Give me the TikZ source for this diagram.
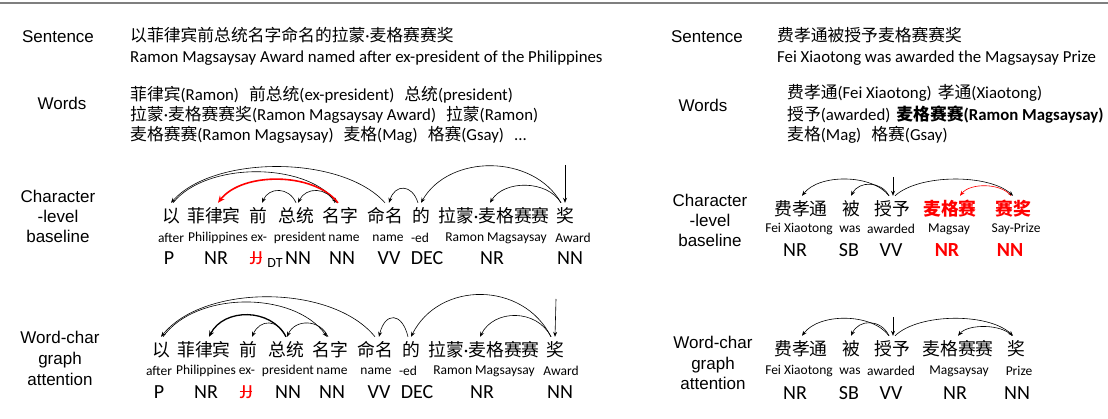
\documentclass[tikz,border=0pt]{standalone}
\usepackage{fontspec}
\usepackage{xcolor}
\usetikzlibrary{arrows.meta,calc}
\setmainfont{Liberation Sans}
\newfontfamily\cjk{Noto Sans CJK SC}
\newfontfamily\cali{Carlito}
\newcommand{\zh}[1]{{\cjk #1}}
\newcommand{\gap}{\hspace{10pt}}
\newcommand{\dotc}{{\cali ·}}
\newcommand{\strk}[1]{\setbox0\hbox{#1}\rlap{\rule[0.3em]{\wd0}{0.9pt}}\box0}
\definecolor{rulegray}{HTML}{7F7F7F}

\begin{document}
\begin{tikzpicture}[
        x=1pt, y=-1pt,
        lbl/.style={font=\fontsize{17}{20}\selectfont, align=center, inner sep=0pt},
        txt/.style={font=\cali\fontsize{16.8}{20}\selectfont, anchor=west, inner sep=0pt},
        tok/.style={font=\cjk\fontsize{17.8}{18}\selectfont, inner sep=0pt, minimum height=26pt},
        gls/.style={font=\cali\fontsize{13.5}{14}\selectfont, inner sep=0pt},
        tagtext/.style={font=\cali\fontsize{20}{20}\selectfont, inner sep=0pt},
        dep/.style={-{Stealth[length=5pt,width=4pt]}, line width=0.6pt},
    ]
\useasboundingbox (0,0) rectangle (1108,419);
\draw[rulegray, line width=2pt] (0,3) -- (1108,3);

% sentence and words, left
\node[lbl] (sentL) at (58,37) {Sentence};
\node[txt] (zhL) at (130,35) {\zh{以菲律宾前总统名字命名的拉蒙}\dotc\zh{麦格赛赛奖}};
\node[txt] (enL) at (130,58) {Ramon Magsaysay Award named after ex-president of the Philippines};
\node[lbl] (wordsL) at (62,103) {Words};
\node[txt] (wl1) at (130,95) {\zh{菲律宾}(Ramon)\gap\zh{前总统}(ex-president)\gap\zh{总统}(president)};
\node[txt] (wl2) at (130,115) {\zh{拉蒙}\dotc\zh{麦格赛赛奖}(Ramon Magsaysay Award)\gap\zh{拉蒙}(Ramon)};
\node[txt] (wl3) at (130,135) {\zh{麦格赛赛}(Ramon Magsaysay)\gap\zh{麦格}(Mag)\gap\zh{格赛}(Gsay)\gap...};

% sentence and words, right
\node[lbl] (sentR) at (707,37) {Sentence};
\node[txt] (zhR) at (777,35) {\zh{费孝通被授予麦格赛赛奖}};
\node[txt] (enR) at (777,58) {Fei Xiaotong was awarded the Magsaysay Prize};
\node[lbl] (wordsR) at (703,105) {Words};
\node[txt] (wr1) at (787,93) {\zh{费孝通}(Fei Xiaotong)\hspace{6pt}\zh{孝通}(Xiaotong)};
\node[txt] (wr2) at (787,115) {\zh{授予}(awarded)\hspace{6pt}\textbf{\zh{麦格赛赛}(Ramon Magsaysay)}};
\node[txt] (wr3) at (787,135) {\zh{麦格}(Mag)\gap\zh{格赛}(Gsay)};

% character-level baseline, left
\node[lbl] (lblBL) at (58,216) {Character\\-level\\baseline};
\foreach \xa/\zhw/\xb/\gl/\xc/\tg [count=\i] in {
        171/以/171/after/169/P,
        214/菲律宾/218/Philippines/216/NR,
        258/前/259/ex-/256/{\color{red}\strk{JJ}},
        296/总统/300/president/298/NN,
        340/名字/344/name/342/NN,
        385/命名/388/name/389/VV,
        421/的/420/-ed/427/DEC,
        494/拉蒙\dotc 麦格赛赛/496/Ramon Magsaysay/492/NR,
        565/奖/573/Award/570/NN}{
    \node[tok] (bl\i) at (\xa,216) {\zhw};
    \node[gls] (blg\i) at (\xb,238) {\gl};
    \node[tagtext] (blt\i) at (\xc,258) {\tg};
}
\node[gls, font=\cali\fontsize{14}{14}\selectfont] (bldt) at (275,263) {DT};
\draw[dep] (bl6.north) .. controls +(-43,-48) and +(43,-48) .. (bl1.north);
\draw[dep] ([xshift=2pt]bl1.north) .. controls +(33,-41) and +(-33,-41) .. ([xshift=-3pt]bl5.north);
\draw[-{Stealth[length=7pt,width=6pt]}, red, line width=1.6pt] ([xshift=-2pt]bl5.north)
    .. controls +(-24,-31) and +(24,-31) .. ([xshift=4pt]bl2.north);
\draw[dep] (bl4.north) .. controls +(-7,-16) and +(7,-16) .. ([xshift=4pt]bl3.north);
\draw[dep] ([xshift=-5pt]bl5.north) .. controls +(-8,-16) and +(8,-16) .. ([xshift=2pt]bl4.north);
\draw[dep] ([xshift=-3pt]bl7.north) .. controls +(-6,-19) and +(6,-19) .. ([xshift=4pt]bl6.north);
\draw[dep] ([xshift=-4pt]bl9.north) .. controls +(-28,-49) and +(28,-49) .. (bl7.north);
\draw[dep] ([xshift=-4pt]bl9.north) .. controls +(-14,-23) and +(14,-23) .. ([xshift=-4pt]bl8.north);
\coordinate (blroot) at (565,165);
\draw[dep] (blroot) -- (bl9.north);

% word-char graph attention, left
\node[lbl, font=\fontsize{17}{21}\selectfont] (lblAL) at (60,358) {Word-char\\graph\\attention};
\foreach \xa/\zhw/\xb/\gl/\xc/\tg [count=\i] in {
        161/以/159/after/159/P,
        204/菲律宾/206/Philippines/206/NR,
        248/前/247/ex-/246/{\color{red}\strk{JJ}},
        286/总统/288/president/288/NN,
        330/名字/332/name/332/NN,
        375/命名/376/name/379/VV,
        411/的/408/-ed/417/DEC,
        484/拉蒙\dotc 麦格赛赛/484/Ramon Magsaysay/482/NR,
        555/奖/561/Award/560/NN}{
    \node[tok] (al\i) at (\xa,350) {\zhw};
    \node[gls] (alg\i) at (\xb,371) {\gl};
    \node[tagtext] (alt\i) at (\xc,392) {\tg};
}
\draw[dep] (al6.north) .. controls +(-43,-53) and +(43,-53) .. (al1.north);
\draw[dep] ([xshift=2pt]al1.north) .. controls +(33,-46) and +(-33,-46) .. ([xshift=-3pt]al5.north);
\draw[-{Stealth[length=6pt,width=5pt]}, line width=1.3pt] (al4.north)
    .. controls +(-15,-29) and +(15,-29) .. ([xshift=5pt]al2.north);
\draw[dep] (al4.north) .. controls +(-8,-18) and +(8,-18) .. ([xshift=4pt]al3.north);
\draw[dep] ([xshift=-2pt]al5.north) .. controls +(-8,-18) and +(8,-18) .. ([xshift=1pt]al4.north);
\draw[dep] ([xshift=-3pt]al7.north) .. controls +(-6,-25) and +(6,-25) .. ([xshift=4pt]al6.north);
\draw[dep] ([xshift=-4pt]al9.north) .. controls +(-28,-56) and +(28,-56) .. (al7.north);
\draw[dep] ([xshift=-4pt]al9.north) .. controls +(-14,-28) and +(14,-28) .. ([xshift=-4pt]al8.north);
\coordinate (alroot) at (556,299);
\draw[dep] (alroot) -- (al9.north);

% character-level baseline, right
\node[lbl] (lblBR) at (710,220) {Character\\-level\\baseline};
\foreach \xa/\zhw/\xb/\gl/\xc/\tg [count=\i] in {
        801/费孝通/799/Fei Xiaotong/795/NR,
        851/被/850/was/849/SB,
        892/授予/891/awarded/891/VV,
        950/{\color{red}\bfseries 麦格赛}/949/Magsay/947/{\color{red}\bfseries NR},
        1013/{\color{red}\bfseries 赛奖}/1016/Say-Prize/1010/{\color{red}\bfseries NN}}{
    \node[tok] (br\i) at (\xa,209) {\zhw};
    \node[gls] (brg\i) at (\xb,229) {\gl};
    \node[tagtext] (brt\i) at (\xc,250) {\tg};
}
\draw[dep] ([xshift=-3pt]br3.north) .. controls +(-17,-22) and +(17,-22) .. ([xshift=1pt]br1.north);
\draw[dep] ([xshift=-3pt]br3.north) .. controls +(-8,-15) and +(8,-15) .. (br2.north);
\draw[dep] ([xshift=3pt]br3.north) .. controls +(24,-22) and +(-24,-22) .. (br5.north);
\draw[dep, red] ([xshift=-2pt]br5.north) .. controls +(-10,-13) and +(10,-13) .. ([xshift=10pt]br4.north);
\coordinate (brroot) at (893,177);
\draw[dep] (brroot) -- ([xshift=1pt]br3.north);

% word-char graph attention, right
\node[lbl, font=\fontsize{17}{20.5}\selectfont] (lblAR) at (713,363) {Word-char\\graph\\attention};
\foreach \xa/\zhw/\xb/\gl/\xc/\tg [count=\i] in {
        801/费孝通/799/Fei Xiaotong/795/NR,
        851/被/850/was/849/SB,
        892/授予/891/awarded/891/VV,
        958/麦格赛赛/959/Magsaysay/955/NR,
        1016/奖/1019/Prize/1017/NN}{
    \node[tok] (ar\i) at (\xa,349) {\zhw};
    \node[gls] (arg\i) at (\xb,371) {\gl};
    \node[tagtext] (art\i) at (\xc,393) {\tg};
}
\draw[dep] ([xshift=-3pt]ar3.north) .. controls +(-17,-23) and +(17,-23) .. ([xshift=1pt]ar1.north);
\draw[dep] ([xshift=-3pt]ar3.north) .. controls +(-8,-17) and +(8,-17) .. (ar2.north);
\draw[dep] ([xshift=3pt]ar3.north) .. controls +(24,-23) and +(-24,-23) .. ([xshift=-3pt]ar5.north);
\draw[dep] ([xshift=-4pt]ar5.north) .. controls +(-10,-12) and +(10,-12) .. (ar4.north);
\coordinate (arroot) at (893,317);
\draw[dep] (arroot) -- ([xshift=1pt]ar3.north);
\end{tikzpicture}
\end{document}
